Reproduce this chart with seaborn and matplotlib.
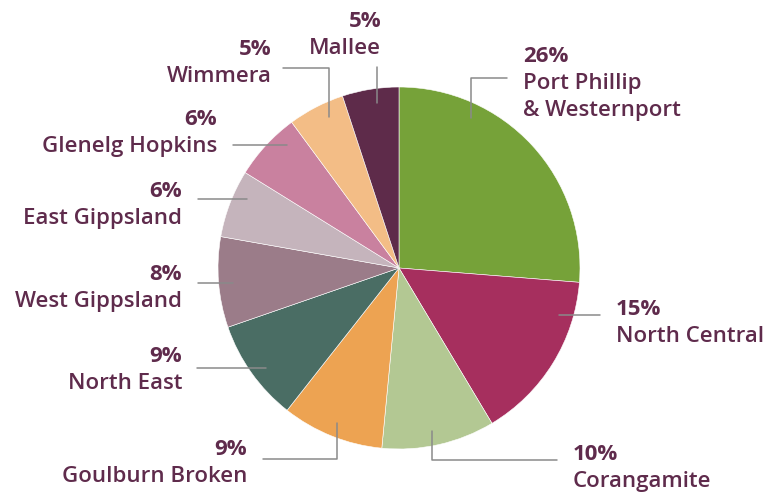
import matplotlib
matplotlib.use("Agg")
import matplotlib.pyplot as plt
import seaborn as sns
import numpy as np

# Share of total by region (percent), clockwise from 12 o'clock
regions = ["Port Phillip\n& Westernport", "North Central", "Corangamite",
           "Goulburn Broken", "North East", "West Gippsland", "East Gippsland",
           "Glenelg Hopkins", "Wimmera", "Mallee"]
shares = [26, 15, 10, 9, 9, 8, 6, 6, 5, 5]
colors = ["#76a239", "#a62f5e", "#b3c893", "#eda352", "#4a6d64",
          "#9b7c89", "#c5b4bc", "#c9819f", "#f3bd86", "#5e2b4a"]

TEXT = "#5f2b4c"
LINE = "#8a8a8a"

sns.set_theme(style="white")
plt.rcParams['font.family'] = ['Open Sans', 'DejaVu Sans']

# canvas in pixels, y measured downwards
W, H = 766, 493
cx, cy, R = 399, 268, 181

# label layout: text x, alignment, baseline of the % line,
# leader: ('h', y, x_end) or ('v', x, y_elbow, x_end or None)
layout = {
    "Port Phillip\n& Westernport": (523, "left", 62, ("v", 471, 78, 507)),
    "North Central": (616, "left", 315, ("h", 315, 600)),
    "Corangamite": (573, "left", 460, ("v", 432, 460, 557)),
    "Goulburn Broken": (247, "right", 455, ("v", 337, 459, 263)),
    "North East": (182, "right", 362, ("h", 368, 197)),
    "West Gippsland": (182, "right", 280, ("h", 283, 198)),
    "East Gippsland": (182, "right", 197, ("h", 199, 198)),
    "Glenelg Hopkins": (217, "right", 125, ("h", 145, 233)),
    "Wimmera": (272, "right", 55, ("v", 329, 68, 283)),
    "Mallee": (381, "right", 27, ("v", 377, 67, None)),
}


def fy(y):
    return H - y


fig = plt.figure(figsize=(W / 100, H / 100), dpi=100)
ax = fig.add_axes([0, 0, 1, 1])
ax.pie(shares, colors=colors, startangle=90, counterclock=False,
       radius=R, center=(cx, fy(cy)),
       wedgeprops=dict(edgecolor="white", linewidth=0.4))
ax.set_xlim(0, W)
ax.set_ylim(0, H)
ax.axis("off")

r_in = 0.92 * R
pitch = 27
for name, share in zip(regions, shares):
    x, ha, yb, lead = layout[name]
    ax.text(x, fy(yb), f"{share}%", ha=ha, va="baseline", fontsize=16,
            fontweight="bold", color=TEXT)
    for i, line in enumerate(name.split("\n")):
        ax.text(x, fy(yb + pitch * (i + 1)), line, ha=ha, va="baseline",
                fontsize=16, fontweight="semibold", color=TEXT)

    # leader line starts inside the wedge at r_in
    if lead[0] == "h":
        _, y, x_end = lead
        dx = np.sqrt(r_in ** 2 - (y - cy) ** 2)
        x0 = cx + dx if x_end > cx else cx - dx
        xs, ys = [x0, x_end], [y, y]
    else:
        _, x, y_el, x_end = lead
        dy = np.sqrt(r_in ** 2 - (x - cx) ** 2)
        y0 = cy + dy if y_el > cy else cy - dy
        xs, ys = [x, x], [y0, y_el]
        if x_end is not None:
            xs.append(x_end)
            ys.append(y_el)
    ax.plot(xs, [fy(v) for v in ys], color=LINE, lw=1.1)

fig.savefig("out.png", dpi=100, facecolor="white")
